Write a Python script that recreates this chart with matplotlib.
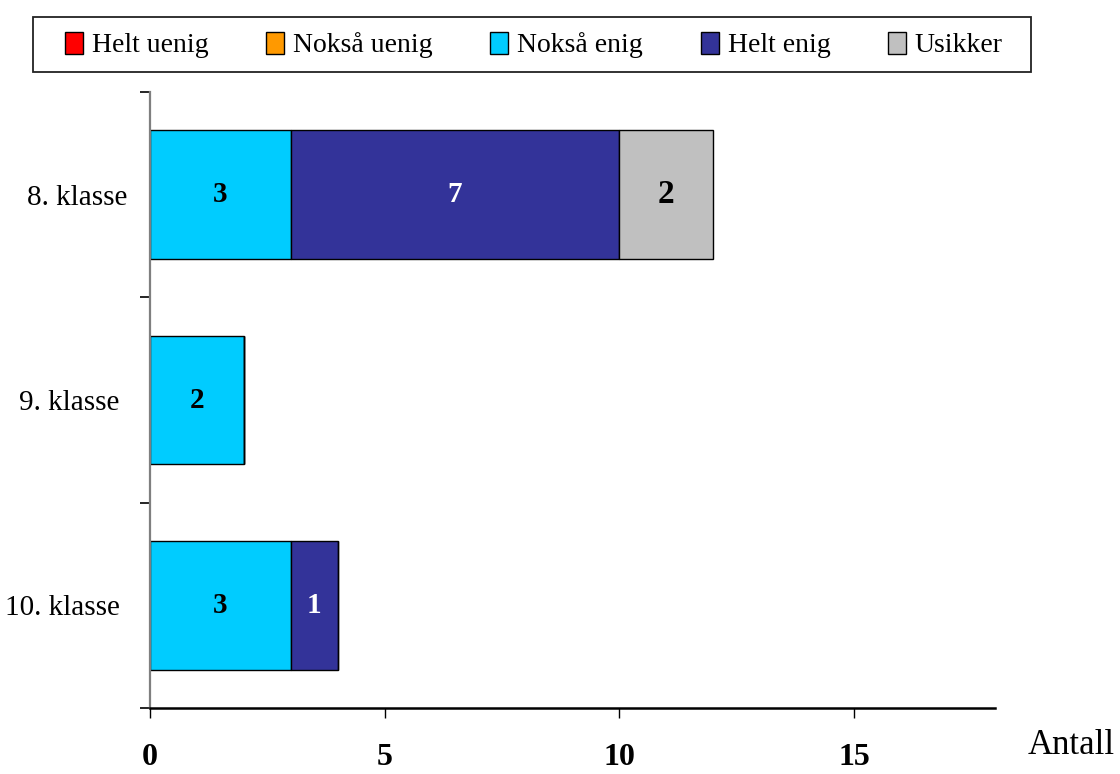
import matplotlib
matplotlib.use("Agg")
import matplotlib.pyplot as plt
import matplotlib.transforms as mtransforms
from matplotlib.patches import Rectangle
import numpy as np

plt.rcParams['font.family'] = ['Liberation Serif', 'DejaVu Serif']

categories = ["8. klasse", "9. klasse", "10. klasse"]
series_names = ["Helt uenig", "Nokså uenig", "Nokså enig", "Helt enig", "Usikker"]
helt_uenig = [0, 0, 0]
nokså_uenig = [0, 0, 0]
nokså_enig = [3, 2, 3]
helt_enig = [7, 0, 1]
usikker = [2, 0, 0]
xticks = [0, 5, 10, 15]

series = [helt_uenig, nokså_uenig, nokså_enig, helt_enig, usikker]
colors = ["#FF0000", "#FF9900", "#00CCFF", "#333399", "#C0C0C0"]
text_colors = ["black", "black", "black", "white", "black"]

W, H = 1120, 774
fig = plt.figure(figsize=(W/100, H/100), dpi=100)
ax = fig.add_axes([150/W, 1-708/H, (995-150)/W, (708-92)/H])

ypos = np.arange(len(categories))[::-1]  # 8. klasse at top
left = np.zeros(len(categories))
handles = []
for name, vals, col, tcol in zip(series_names, series, colors, text_colors):
    vals = np.array(vals, dtype=float)
    bars = ax.barh(ypos, vals, left=left, height=0.628, color=col,
                   edgecolor="black", linewidth=1.0, label=name)
    handles.append(bars)
    for y, l, v in zip(ypos, left, vals):
        if v > 0:
            fs = 24 if name == "Usikker" else 21
            ax.text(l + v/2, y, f"{int(v)}", ha="center", va="center",
                    color=tcol, fontsize=fs, fontweight="bold")
    left = left + vals

ax.set_xlim(0, 18)
ax.set_ylim(-0.5, 2.5)
ax.set_xticks(xticks)
ax.set_xticklabels([str(t) for t in xticks], fontsize=23, fontweight="bold")
ax.tick_params(axis="x", direction="out", length=7.2, width=1, pad=18, color="black")
ax.set_yticks(ypos)
ax.set_yticklabels(categories, fontsize=21)
ax.set_yticks([-0.5, 0.5, 1.5, 2.5], minor=True)
ax.tick_params(axis="y", which="major", length=0, pad=22)
ax.tick_params(axis="y", which="minor", length=7.2, width=1.2, color="black")
for s in ["top", "right"]:
    ax.spines[s].set_visible(False)
ax.spines["left"].set_color("#7f7f7f")
ax.spines["left"].set_linewidth(1.6)
ax.spines["bottom"].set_linewidth(1.8)
ax.spines["bottom"].set_color("black")

# the top category label sits slightly further right in the reference
for tick in ax.yaxis.get_major_ticks():
    if tick.label1.get_text() == categories[0]:
        tick.label1.set_transform(tick.label1.get_transform() +
                                  mtransforms.ScaledTranslation(8/100, 0, fig.dpi_scale_trans))

fig.text(1115/W, 1-745/H, "Antall", fontsize=25, ha="right", va="center")

# legend frame
fig.patches.append(Rectangle((33/W, 1-71.5/H), (1031-33)/W, (71.5-17.5)/H,
                             transform=fig.transFigure, fill=False,
                             edgecolor="#222222", linewidth=1.3))
leg = fig.legend(handles=handles, labels=series_names, loc="center",
                 bbox_to_anchor=(534/W, 1-45/H), ncol=5, fontsize=20,
                 frameon=False, handlelength=0.65, handleheight=0.85,
                 handletextpad=0.32, columnspacing=2.07,
                 borderaxespad=0, borderpad=0)

fig.savefig("out.png", dpi=100)
